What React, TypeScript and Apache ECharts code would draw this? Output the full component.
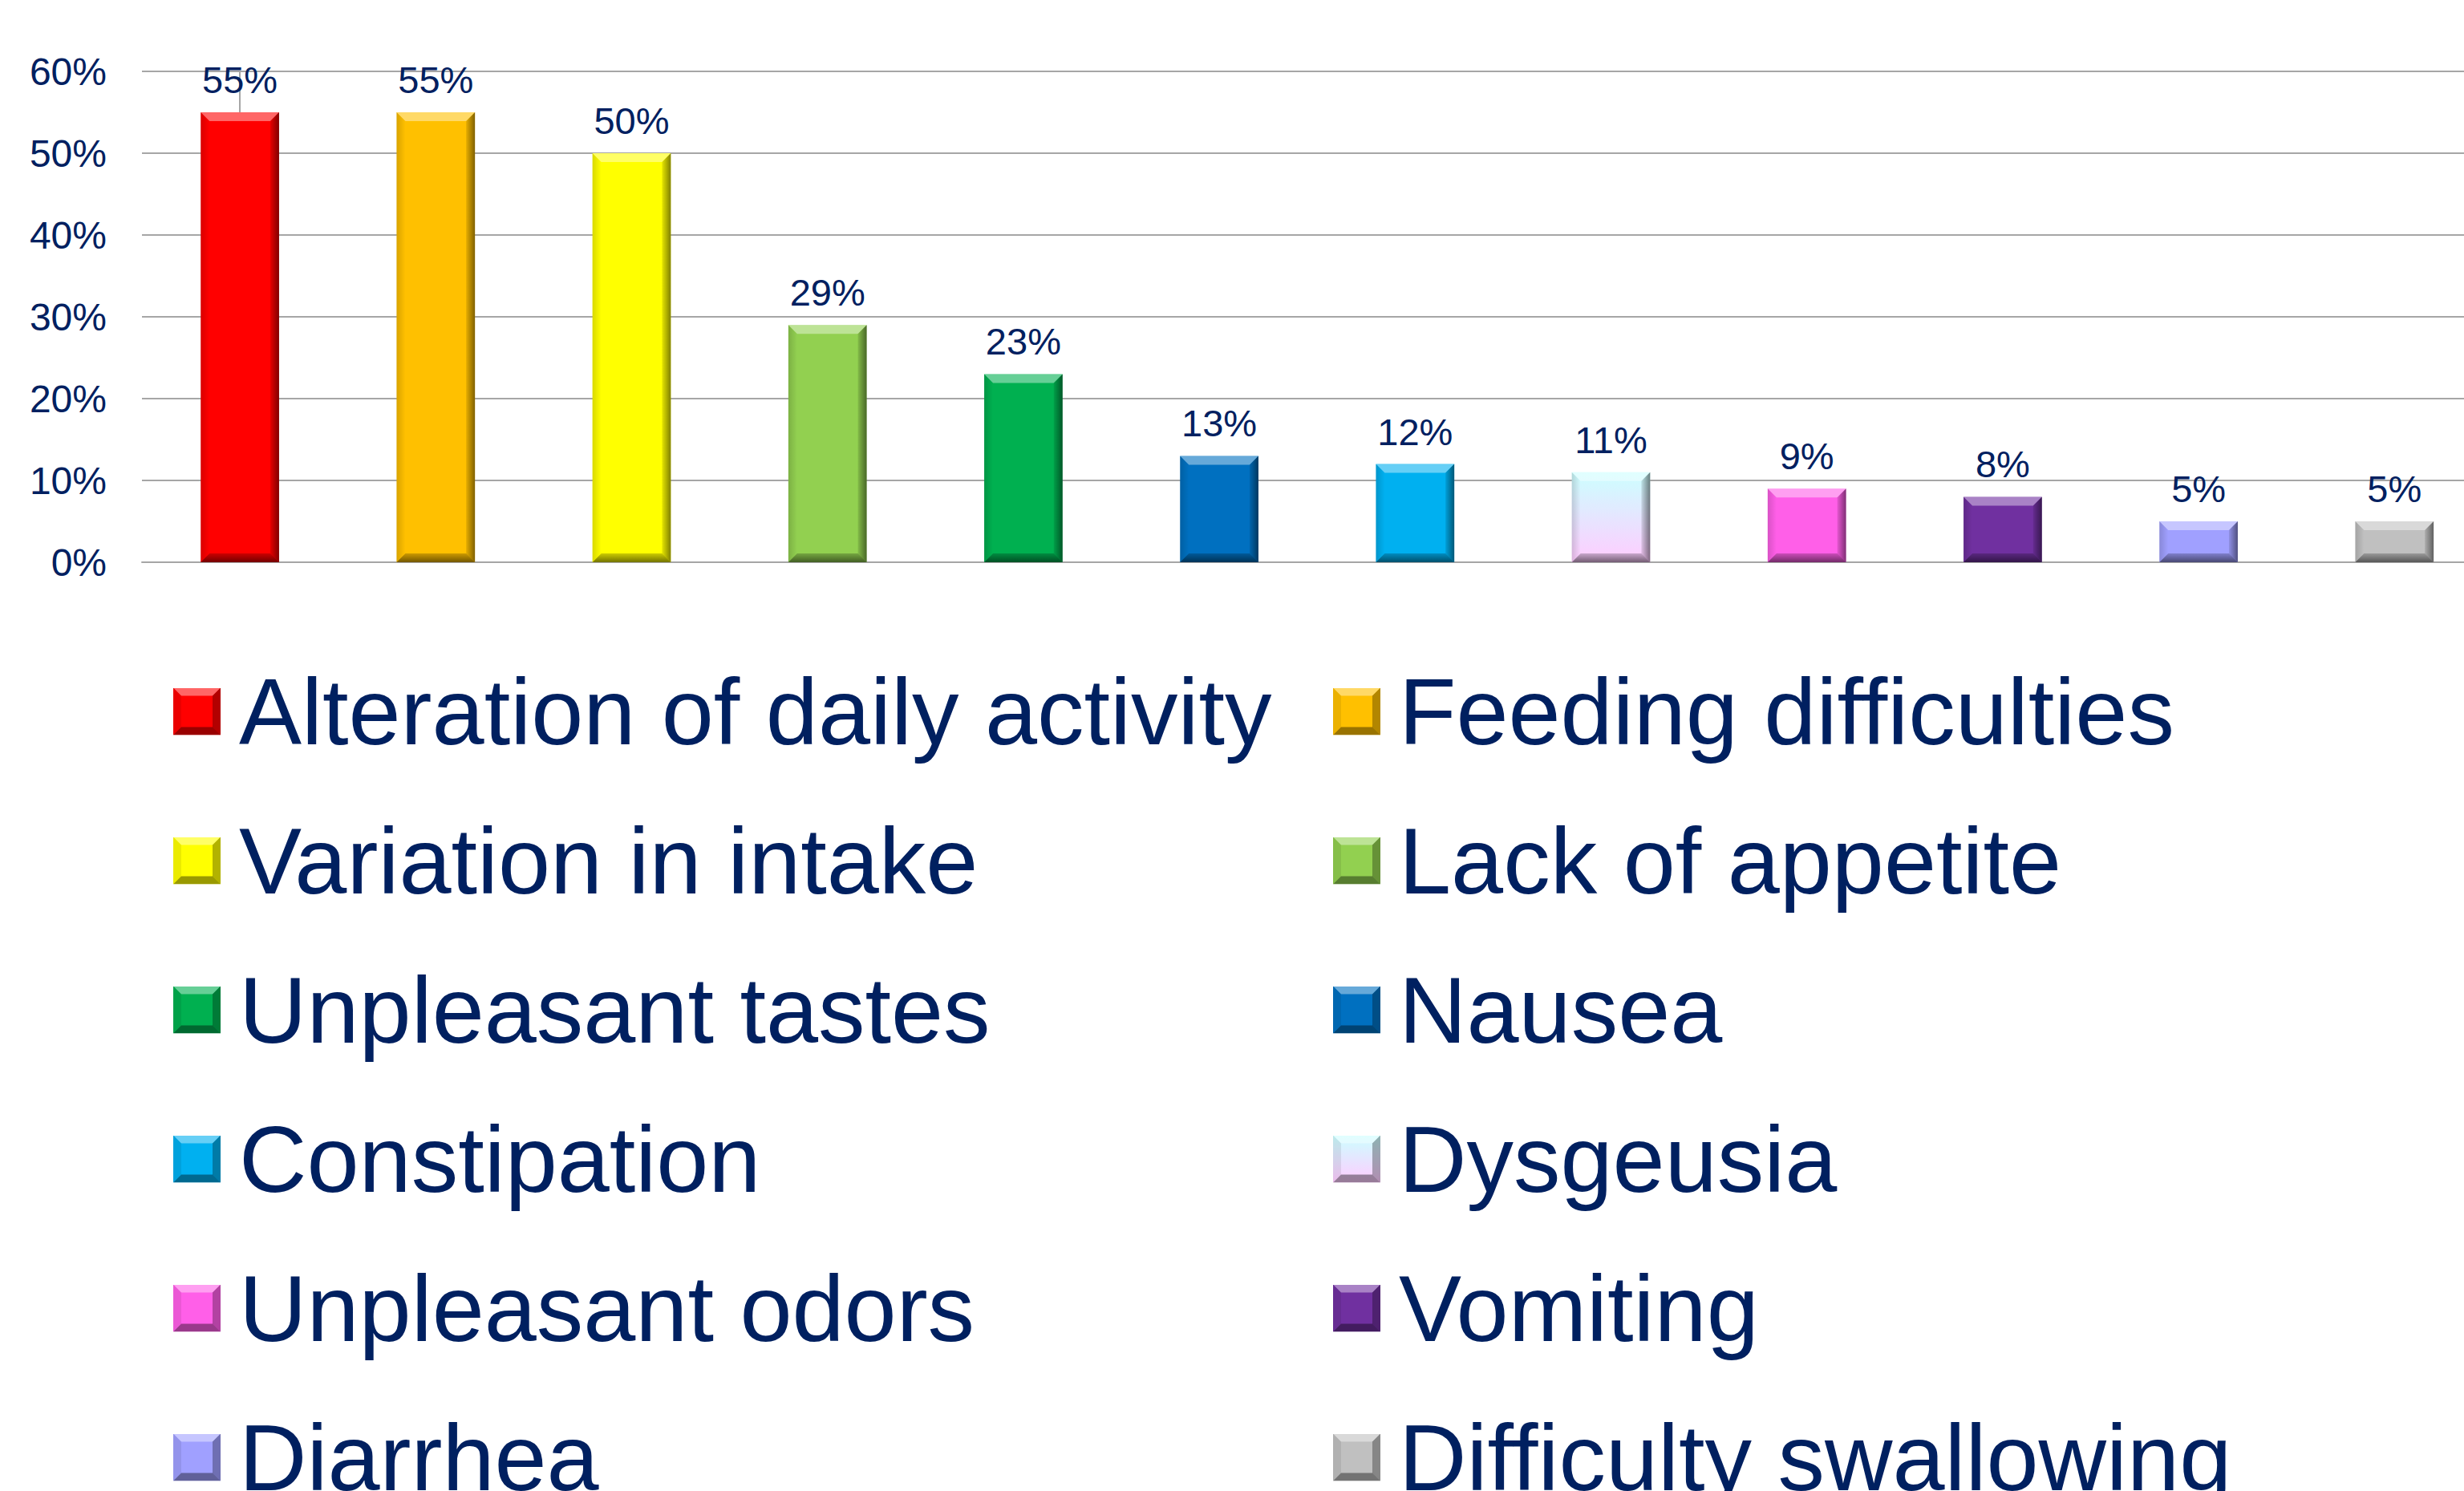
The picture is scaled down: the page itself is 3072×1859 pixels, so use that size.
import React, { useEffect, useRef } from "react";
import * as echarts from "echarts";

const categories = [
  "Alteration of daily activity",
  "Feeding difficulties",
  "Variation in intake",
  "Lack of appetite",
  "Unpleasant tastes",
  "Nausea",
  "Constipation",
  "Dysgeusia",
  "Unpleasant odors",
  "Vomiting",
  "Diarrhea",
  "Difficulty swallowing",
];
const values = [55, 55, 50, 29, 23, 13, 12, 11, 9, 8, 5, 5];
const colorTop = ["#FF0000", "#FFC000", "#FFFF00", "#92D050", "#00B050", "#0070C0", "#00B0F0", "#CCFFFF", "#FF5FE8", "#7030A0", "#A0A0FF", "#C0C0C0"];
const colorBottom = ["#FF0000", "#FFC000", "#FFFF00", "#92D050", "#00B050", "#0070C0", "#00B0F0", "#FFCCFF", "#FF5FE8", "#7030A0", "#A0A0FF", "#C0C0C0"];
const yTicks = [0, 10, 20, 30, 40, 50, 60];

const NAVY = "#002060";
const FONT = "'Liberation Sans', Arial, sans-serif";
const GRID = "#A6A6A6";

// plot area: category bands of ~244px starting at x=177; the last band runs past the right edge
const GRID_LEFT = 177;
const BAND = 244.2;
const X_MAX = (3072 - GRID_LEFT) / BAND - 0.5;

function fillFor(i: number) {
  if (colorTop[i] === colorBottom[i]) return colorTop[i];
  return new echarts.graphic.LinearGradient(0, 0, 0, 1, [
    { offset: 0, color: colorTop[i] },
    { offset: 1, color: colorBottom[i] },
  ]);
}

function bevelIcon(i: number) {
  const s = 59;
  const d = 10;
  const svg =
    `<svg xmlns="http://www.w3.org/2000/svg" width="${s}" height="${s}" viewBox="0 0 ${s} ${s}">` +
    `<defs><linearGradient id="g" x1="0" y1="0" x2="0" y2="1"><stop offset="0" stop-color="${colorTop[i]}"/><stop offset="1" stop-color="${colorBottom[i]}"/></linearGradient></defs>` +
    `<rect x="0" y="0" width="${s}" height="${s}" fill="url(#g)"/>` +
    `<polygon points="0,0 ${s},0 ${s - d},${d} ${d},${d}" fill="rgba(255,255,255,0.4)"/>` +
    `<polygon points="0,0 0,${s} ${d},${s - d} ${d},${d}" fill="rgba(0,0,0,0.08)"/>` +
    `<polygon points="${s},0 ${s},${s} ${s - d},${s - d} ${s - d},${d}" fill="rgba(0,0,0,0.3)"/>` +
    `<polygon points="0,${s} ${s},${s} ${s - d},${s - d} ${d},${s - d}" fill="rgba(0,0,0,0.4)"/>` +
    `</svg>`;
  return "image://data:image/svg+xml;charset=utf-8," + encodeURIComponent(svg);
}

export default function App() {
  const ref = useRef<HTMLDivElement>(null);
  useEffect(() => {
    if (!ref.current) return;
    const chart = echarts.init(ref.current, undefined, { renderer: "svg" });

    const series = categories.map((name, i) => ({
      name,
      type: "custom",
      itemStyle: { color: fillFor(i) },
      encode: { x: 0, y: 1 },
      data: [[i, values[i]]],
      renderItem: (params: any, api: any) => {
        const xi = api.value(0);
        const v = api.value(1);
        const top = api.coord([xi, v]);
        const base = api.coord([xi, 0]);
        const bw = api.size([1, 0])[0] * 0.4;
        const l = top[0] - bw / 2;
        const r = l + bw;
        const t = top[1];
        const b = base[1];
        const d = Math.min(11, (b - t) / 3);
        return {
          type: "group",
          children: [
            { type: "rect", shape: { x: l, y: t, width: bw, height: b - t }, style: { fill: fillFor(i) } },
            {
              type: "polygon",
              shape: { points: [[l, t], [r, t], [r - d, t + d], [l + d, t + d]] },
              style: { fill: "rgba(255,255,255,0.4)" },
            },
            {
              type: "polygon",
              shape: { points: [[l, t], [l, b], [l + d, b - d], [l + d, t + d]] },
              style: {
                fill: new echarts.graphic.LinearGradient(0, 0, 1, 0, [
                  { offset: 0, color: "rgba(0,0,0,0.15)" },
                  { offset: 1, color: "rgba(0,0,0,0)" },
                ]),
              },
            },
            {
              type: "polygon",
              shape: { points: [[r, t], [r, b], [r - d, b - d], [r - d, t + d]] },
              style: {
                fill: new echarts.graphic.LinearGradient(1, 0, 0, 0, [
                  { offset: 0, color: "rgba(0,0,0,0.5)" },
                  { offset: 1, color: "rgba(0,0,0,0.1)" },
                ]),
              },
            },
            {
              type: "polygon",
              shape: { points: [[l, b], [r, b], [r - d, b - d], [l + d, b - d]] },
              style: {
                fill: new echarts.graphic.LinearGradient(0, 1, 0, 0, [
                  { offset: 0, color: "rgba(0,0,0,0.55)" },
                  { offset: 1, color: "rgba(0,0,0,0.2)" },
                ]),
              },
            },
            {
              type: "text",
              x: top[0],
              y: t - 17,
              style: {
                text: v + "%",
                fontSize: 47,
                fontFamily: FONT,
                fill: NAVY,
                align: "center",
                verticalAlign: "bottom",
              },
            },
          ],
        };
      },
    }));

    const legendCommon = {
      orient: "vertical",
      top: 799,
      height: 1400,
      itemWidth: 59,
      itemHeight: 59,
      itemGap: 20,
      selectedMode: false,
      itemStyle: { borderWidth: 0 },
      textStyle: {
        fontSize: 117,
        lineHeight: 120,
        fontFamily: FONT,
        color: NAVY,
        padding: [0, 0, 46, 18],
      },
    };
    const legendItem = (i: number) => ({ name: categories[i], icon: bevelIcon(i) });

    chart.setOption({
      animation: false,
      backgroundColor: "#FFFFFF",
      grid: { left: GRID_LEFT, top: 89, right: 0, height: 612 },
      xAxis: {
        type: "value",
        min: -0.5,
        max: X_MAX,
        splitLine: { show: false },
        axisLine: { show: true, lineStyle: { color: GRID, width: 2 } },
        axisTick: { show: false },
        axisLabel: { show: false },
      },
      yAxis: {
        type: "value",
        min: yTicks[0],
        max: yTicks[yTicks.length - 1],
        interval: 10,
        axisLine: { show: true, lineStyle: { color: GRID, width: 2 } },
        axisTick: { show: true, length: 14, lineStyle: { color: GRID, width: 2 } },
        splitLine: { show: true, lineStyle: { color: GRID, width: 2 } },
        axisLabel: {
          formatter: "{value}%",
          fontSize: 48,
          fontFamily: FONT,
          color: NAVY,
          margin: 44,
        },
      },
      legend: [
        { ...legendCommon, left: 211, data: [0, 2, 4, 6, 8, 10].map(legendItem) },
        { ...legendCommon, left: 1657, data: [1, 3, 5, 7, 9, 11].map(legendItem) },
      ],
      series,
    } as any);

    return () => chart.dispose();
  }, []);

  return (
    <div
      ref={ref}
      style={{ position: "fixed", left: 0, top: 0, width: 3072, height: 1859, background: "#fff" }}
    />
  );
}
